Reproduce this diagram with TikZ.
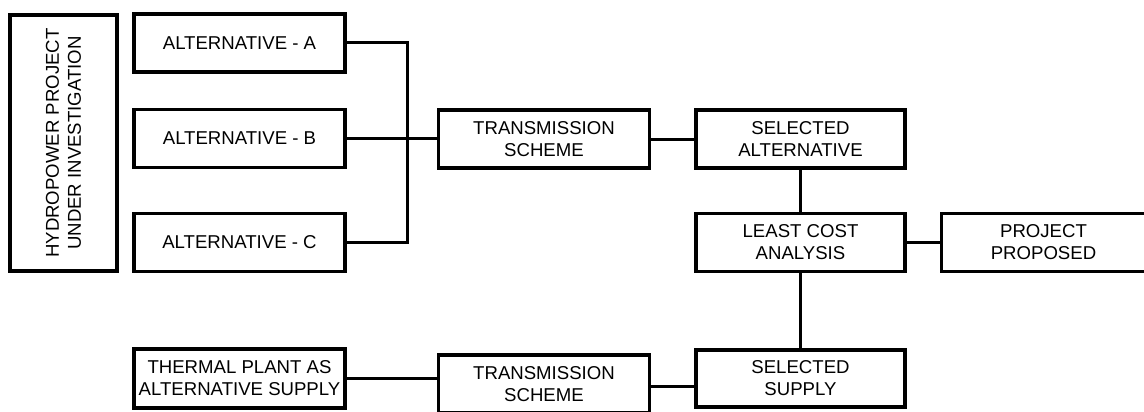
\documentclass[tikz,border=0pt]{standalone}
\usepackage{fontspec}
\setmainfont{Liberation Sans}
\begin{document}
\begin{tikzpicture}[x=1pt,y=-1pt,
  box/.style={draw=black, line width=3.5pt, inner sep=0pt, align=center,
    font=\fontsize{18.6}{22}\selectfont, minimum width=211pt, minimum height=58pt},
  link/.style={draw=black, line width=3pt}]
\useasboundingbox (0,0) rectangle (1144,412);
\node[box, minimum width=107pt, minimum height=256pt] (hydro) at (63.5,143) {};
\node[rotate=90, align=center, font=\fontsize{18.6}{22}\selectfont, inner sep=0pt] (hydrotext) at (hydro.center) {HYDROPOWER PROJECT\\UNDER INVESTIGATION};
\node[box] (altA) at (239.5,43) {ALTERNATIVE - A};
\node[box] (altB) at (239.5,138.5) {ALTERNATIVE - B};
\node[box] (altC) at (239.5,242.5) {ALTERNATIVE - C};
\node[box] (tr1) at (544,139) {TRANSMISSION\\SCHEME};
\node[box, minimum width=209pt] (selA) at (800.5,139) {SELECTED\\ALTERNATIVE};
\node[box, minimum width=209pt] (lca) at (800.5,242.5) {LEAST COST\\ANALYSIS};
\node[box, minimum width=204pt] (proj) at (1043.5,242.5) {PROJECT\\PROPOSED};
\node[box, minimum height=59pt] (therm) at (239.5,378.5) {THERMAL PLANT AS\\ALTERNATIVE SUPPLY};
\node[box] (tr2) at (544,384) {TRANSMISSION\\SCHEME};
\node[box, minimum width=209pt, minimum height=57pt] (selS) at (800.5,378.5) {SELECTED\\SUPPLY};
\coordinate (bus) at (407,43);
\draw[link] (altA.east) -- (bus) -- (bus |- altC.east) -- (altC.east);
\draw[link] (altB.east) -- (altB.east -| tr1.west);
\draw[link] (tr1.east) -- (selA.west);
\draw[link] (selA.south) -- (lca.north);
\draw[link] (lca.east) -- (proj.west);
\draw[link] (lca.south) -- (selS.north);
\draw[link] (therm.east) -- (therm.east -| tr2.west);
\draw[link] ([yshift=-2pt]tr2.east) -- ([yshift=-2pt]tr2.east -| selS.west);
\end{tikzpicture}
\end{document}
